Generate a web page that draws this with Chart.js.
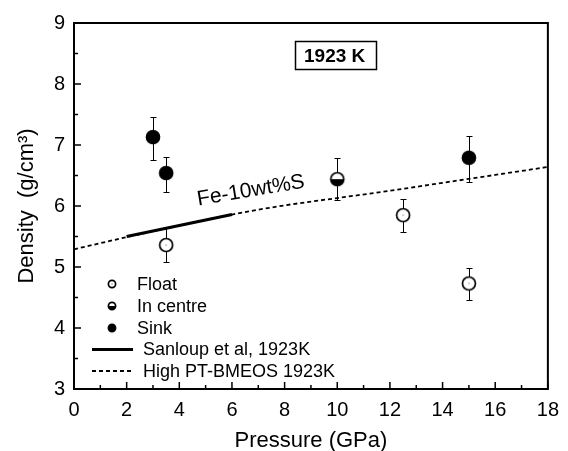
<!DOCTYPE html>
<html>
<head>
<meta charset="utf-8">
<script src="https://cdn.jsdelivr.net/npm/chart.js@4"></script>
<style>
  html, body { margin: 0; padding: 0; background: #fff; }
</style>
</head>
<body>
<canvas id="chart" width="568" height="451"></canvas>
<script>
// Density of Fe-10wt%S at 1923 K

// Float
const floatP = [3.5, 12.5, 15];
const floatD = [5.36, 5.85, 4.73];
const floatLo = [5.09, 5.57, 4.46];
const floatHi = [5.64, 6.11, 4.98];

// In centre
const centreP = [10];
const centreD = [6.44];
const centreLo = [6.10];
const centreHi = [6.79];

// Sink
const sinkP = [3, 3.5, 15];
const sinkD = [7.13, 6.54, 6.79];
const sinkLo = [6.75, 6.23, 6.40];
const sinkHi = [7.46, 6.81, 7.15];

// Sanloup et al, 1923K
const sanloupP = [2, 4, 6];
const sanloupD = [5.50, 5.68, 5.86];

// High PT-BMEOS 1923K
const bmeosP = [0, 2, 4, 6, 8, 10, 12, 14, 16, 18];
const bmeosD = [5.29, 5.49, 5.68, 5.86, 6.01, 6.13, 6.25, 6.38, 6.51, 6.64];

// axis ticks
const xMajor = [0, 2, 4, 6, 8, 10, 12, 14, 16, 18];
const xMinor = [1, 3, 5, 7, 9, 11, 13, 15, 17];
const yMajor = [3, 4, 5, 6, 7, 8, 9];
const yMinor = [3.5, 4.5, 5.5, 6.5, 7.5, 8.5];

const FONT = '"Liberation Sans", Arial, Helvetica, sans-serif';

function toPoints(xs, ys) {
    return xs.map((x, i) => ({ x: x, y: ys[i] }));
}

// marker images: open, half filled (bottom black), filled
function makeMarker(kind, r) {
    const s = 2 * Math.ceil(r + 2);
    const c = document.createElement('canvas');
    c.width = s;
    c.height = s;
    const g = c.getContext('2d');
    const m = s / 2;
    g.lineWidth = 1.7;
    g.beginPath();
    g.arc(m, m, r, 0, 2 * Math.PI);
    g.fillStyle = kind === 'sink' ? '#000' : '#fff';
    g.fill();
    if (kind === 'centre') {
        g.beginPath();
        g.arc(m, m, r, 0, Math.PI);
        g.closePath();
        g.fillStyle = '#000';
        g.fill();
    }
    if (kind === 'float') {
        g.fillStyle = '#444';
        g.fillRect(m - 0.5, m - 0.5, 1, 1);
    }
    g.beginPath();
    g.arc(m, m, r, 0, 2 * Math.PI);
    g.strokeStyle = '#000';
    g.stroke();
    return c;
}

const markers = {
    float: makeMarker('float', 6.5),
    centre: makeMarker('centre', 6.5),
    sink: makeMarker('sink', 6.5)
};
const legendMarkers = {
    float: makeMarker('float', 3.6),
    centre: makeMarker('centre', 3.6),
    sink: makeMarker('sink', 3.6)
};

// error bars drawn under the markers
const errorBars = {
    id: 'errorBars',
    beforeDatasetsDraw(chart) {
        const { ctx, scales: { x, y } } = chart;
        ctx.save();
        ctx.strokeStyle = '#000';
        ctx.lineWidth = 1;
        chart.data.datasets.forEach(ds => {
            if (!ds.errLo) return;
            ds.data.forEach((pt, i) => {
                const px = Math.round(x.getPixelForValue(pt.x)) + 0.5;
                const lo = Math.round(y.getPixelForValue(ds.errLo[i])) + 0.5;
                const hi = Math.round(y.getPixelForValue(ds.errHi[i])) + 0.5;
                ctx.beginPath();
                ctx.moveTo(px, lo); ctx.lineTo(px, hi);
                ctx.moveTo(px - 3, lo); ctx.lineTo(px + 3, lo);
                ctx.moveTo(px - 3, hi); ctx.lineTo(px + 3, hi);
                ctx.stroke();
            });
        });
        ctx.restore();
    }
};

// plot frame and inward ticks
const frameTicks = {
    id: 'frameTicks',
    afterDraw(chart) {
        const { ctx, chartArea: a, scales: { x, y } } = chart;
        ctx.save();
        ctx.strokeStyle = '#000';
        ctx.lineWidth = 2;
        ctx.strokeRect(a.left, a.top, a.right - a.left, a.bottom - a.top);
        ctx.lineWidth = 1.5;
        ctx.beginPath();
        xMajor.forEach(v => { const p = x.getPixelForValue(v); ctx.moveTo(p, a.bottom); ctx.lineTo(p, a.bottom - 7); });
        xMinor.forEach(v => { const p = x.getPixelForValue(v); ctx.moveTo(p, a.bottom); ctx.lineTo(p, a.bottom - 4); });
        yMajor.forEach(v => { const p = y.getPixelForValue(v); ctx.moveTo(a.left, p); ctx.lineTo(a.left + 7, p); });
        yMinor.forEach(v => { const p = y.getPixelForValue(v); ctx.moveTo(a.left, p); ctx.lineTo(a.left + 4, p); });
        ctx.stroke();
        ctx.restore();
    }
};

// curve label, temperature box and legend
const extras = {
    id: 'extras',
    afterDraw(chart) {
        const { ctx, scales: { x, y } } = chart;
        ctx.save();
        ctx.fillStyle = '#000';
        ctx.strokeStyle = '#000';

        // Fe-10wt%S along the curve
        ctx.save();
        ctx.translate(x.getPixelForValue(6.72), y.getPixelForValue(6.25));
        ctx.rotate(-9.5 * Math.PI / 180);
        ctx.font = '21px ' + FONT;
        ctx.textAlign = 'center';
        ctx.textBaseline = 'middle';
        ctx.fillText('Fe-10wt%S', 0, 0);
        ctx.restore();

        // 1923 K box
        const bx = x.getPixelForValue(9.9), by = y.getPixelForValue(8.47);
        ctx.lineWidth = 1.5;
        ctx.strokeRect(Math.round(bx - 40) + 0.5, Math.round(by - 14) + 0.5, 81, 28);
        ctx.font = 'bold 19px ' + FONT;
        ctx.textAlign = 'center';
        ctx.textBaseline = 'middle';
        ctx.fillText('1923 K', bx, by + 1);

        // legend
        ctx.font = '18px ' + FONT;
        ctx.textAlign = 'left';
        const ds = chart.data.datasets;
        const rows = [
            { kind: 'float', label: ds[0].label, y: 284 },
            { kind: 'centre', label: ds[1].label, y: 306 },
            { kind: 'sink', label: ds[2].label, y: 328 }
        ];
        rows.forEach(r => {
            const img = legendMarkers[r.kind];
            ctx.drawImage(img, 112 - img.width / 2, r.y - img.height / 2);
            ctx.fillText(r.label, 137, r.y + 1);
        });
        ctx.lineWidth = 3;
        ctx.setLineDash([]);
        ctx.beginPath(); ctx.moveTo(92, 349.5); ctx.lineTo(133, 349.5); ctx.stroke();
        ctx.fillText(ds[3].label, 143, 350);
        ctx.lineWidth = 1.8;
        ctx.setLineDash([4, 3]);
        ctx.beginPath(); ctx.moveTo(92, 371); ctx.lineTo(133, 371); ctx.stroke();
        ctx.setLineDash([]);
        ctx.fillText(ds[4].label, 143, 372);
        ctx.restore();
    }
};

new Chart(document.getElementById('chart'), {
    type: 'scatter',
    data: {
        datasets: [{
            label: 'Float',
            data: toPoints(floatP, floatD),
            errLo: floatLo,
            errHi: floatHi,
            pointStyle: markers.float
        }, {
            label: 'In centre',
            data: toPoints(centreP, centreD),
            errLo: centreLo,
            errHi: centreHi,
            pointStyle: markers.centre
        }, {
            label: 'Sink',
            data: toPoints(sinkP, sinkD),
            errLo: sinkLo,
            errHi: sinkHi,
            pointStyle: markers.sink
        }, {
            label: 'Sanloup et al, 1923K',
            type: 'line',
            data: toPoints(sanloupP, sanloupD),
            borderColor: '#000',
            borderWidth: 3.2,
            pointRadius: 0,
            tension: 0
        }, {
            label: 'High PT-BMEOS 1923K',
            type: 'line',
            data: toPoints(bmeosP, bmeosD),
            borderColor: '#000',
            borderWidth: 1.8,
            borderDash: [4, 3],
            pointRadius: 0,
            cubicInterpolationMode: 'monotone'
        }]
    },
    options: {
        responsive: false,
        animation: false,
        layout: { padding: { top: 23, right: 15, left: 0, bottom: 0 } },
        plugins: {
            legend: { display: false },
            tooltip: { enabled: false }
        },
        scales: {
            x: {
                type: 'linear',
                min: 0,
                max: 18,
                ticks: {
                    stepSize: 2,
                    color: '#000',
                    padding: 9,
                    maxRotation: 0,
                    font: { family: FONT, size: 20 }
                },
                grid: { display: false, drawTicks: false },
                border: { display: false },
                title: {
                    display: true,
                    text: 'Pressure (GPa)',
                    color: '#000',
                    padding: 0,
                    font: { family: FONT, size: 22, lineHeight: 0.9 }
                },
                afterFit(scale) { scale.height = 62; }
            },
            y: {
                type: 'linear',
                min: 3,
                max: 9,
                ticks: {
                    stepSize: 1,
                    color: '#000',
                    padding: 9,
                    font: { family: FONT, size: 20 }
                },
                grid: { display: false, drawTicks: false },
                border: { display: false },
                title: {
                    display: true,
                    text: 'Density  (g/cm³)',
                    color: '#000',
                    padding: { top: 16, bottom: 0 },
                    font: { family: FONT, size: 22, lineHeight: 1 }
                },
                afterFit(scale) { scale.width = 74; }
            }
        }
    },
    plugins: [errorBars, frameTicks, extras]
});
</script>
</body>
</html>
